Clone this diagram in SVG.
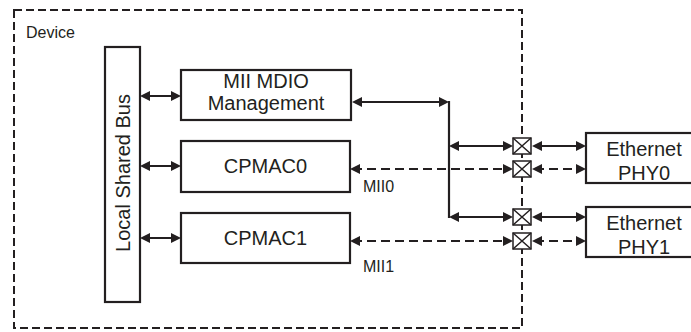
<svg xmlns="http://www.w3.org/2000/svg" width="691" height="332" viewBox="0 0 691 332">
<defs>
<style>
.box{fill:#fff;stroke:#231f20;stroke-width:2.2}
.t{font-family:"Liberation Sans",Arial,sans-serif;font-size:20px;fill:#231f20;text-anchor:middle}
.s{font-family:"Liberation Sans",Arial,sans-serif;font-size:16px;fill:#231f20}
.ln{stroke:#231f20;stroke-width:2.2;fill:none}
.dl{stroke:#231f20;stroke-width:2;fill:none;stroke-dasharray:9 5}
.bd{stroke:#231f20;stroke-width:2;fill:none;stroke-dasharray:8 4}
.xb{fill:#fff;stroke:#231f20;stroke-width:1.5}
</style>
<marker id="ah" viewBox="0 0 10 10" refX="7" refY="5" markerWidth="10" markerHeight="10" markerUnits="userSpaceOnUse" orient="auto-start-reverse">
<path d="M0,0 L10,5 L0,10 z" fill="#231f20"/>
</marker>
</defs>
<g id="device">
<rect class="bd" x="14" y="10" width="508" height="318"/>
<text class="s" x="26" y="38">Device</text>
</g>
<g id="bus">
<rect class="box" x="105" y="47" width="35" height="255"/>
<text class="t" transform="translate(130,173) rotate(-90)">Local Shared Bus</text>
</g>
<g id="mdio">
<rect class="box" x="181" y="70" width="170" height="50"/>
<text class="t" x="266" y="88">MII MDIO</text>
<text class="t" x="266" y="110">Management</text>
</g>
<g id="cpmac0">
<rect class="box" x="181" y="141" width="169" height="51"/>
<text class="t" x="265.5" y="173">CPMAC0</text>
</g>
<g id="cpmac1">
<rect class="box" x="181" y="213" width="169" height="50"/>
<text class="t" x="265.5" y="245">CPMAC1</text>
</g>
<g id="phy0">
<rect class="box" x="586" y="133" width="110" height="50"/>
<text class="t" x="644" y="156">Ethernet</text>
<text class="t" x="644" y="180">PHY0</text>
</g>
<g id="phy1">
<rect class="box" x="586" y="207" width="110" height="50"/>
<text class="t" x="644" y="230">Ethernet</text>
<text class="t" x="644" y="254">PHY1</text>
</g>
<g id="connectors">
<line class="ln" x1="143" y1="96" x2="178" y2="96" marker-start="url(#ah)" marker-end="url(#ah)"/>
<line class="ln" x1="143" y1="166" x2="178" y2="166" marker-start="url(#ah)" marker-end="url(#ah)"/>
<line class="ln" x1="143" y1="238" x2="178" y2="238" marker-start="url(#ah)" marker-end="url(#ah)"/>
<line class="ln" x1="355" y1="102" x2="446" y2="102" marker-start="url(#ah)" marker-end="url(#ah)"/>
<line class="ln" x1="449" y1="101" x2="449" y2="218"/>
<line class="ln" x1="452" y1="146" x2="510" y2="146" marker-start="url(#ah)" marker-end="url(#ah)"/>
<line class="ln" x1="452" y1="217" x2="510" y2="217" marker-start="url(#ah)" marker-end="url(#ah)"/>
<line class="dl" x1="353" y1="169" x2="510" y2="169" marker-start="url(#ah)" marker-end="url(#ah)"/>
<line class="dl" x1="353" y1="241" x2="510" y2="241" marker-start="url(#ah)" marker-end="url(#ah)"/>
<line class="ln" x1="535" y1="146" x2="583" y2="146" marker-start="url(#ah)" marker-end="url(#ah)"/>
<line class="ln" x1="535" y1="217" x2="583" y2="217" marker-start="url(#ah)" marker-end="url(#ah)"/>
<line class="dl" x1="535" y1="169" x2="583" y2="169" marker-start="url(#ah)" marker-end="url(#ah)"/>
<line class="dl" x1="535" y1="241" x2="583" y2="241" marker-start="url(#ah)" marker-end="url(#ah)"/>
<text class="s" x="363" y="192">MII0</text>
<text class="s" x="363" y="272">MII1</text>
</g>
<g id="switches">
<g id="sw0"><rect class="xb" x="513" y="138" width="18" height="16"/><path class="xb" d="M513,138 L531,154 M531,138 L513,154"/></g>
<g id="sw1"><rect class="xb" x="513" y="161" width="18" height="16"/><path class="xb" d="M513,161 L531,177 M531,161 L513,177"/></g>
<g id="sw2"><rect class="xb" x="513" y="209" width="18" height="16"/><path class="xb" d="M513,209 L531,225 M531,209 L513,225"/></g>
<g id="sw3"><rect class="xb" x="513" y="233" width="18" height="16"/><path class="xb" d="M513,233 L531,249 M531,233 L513,249"/></g>
</g>
</svg>
